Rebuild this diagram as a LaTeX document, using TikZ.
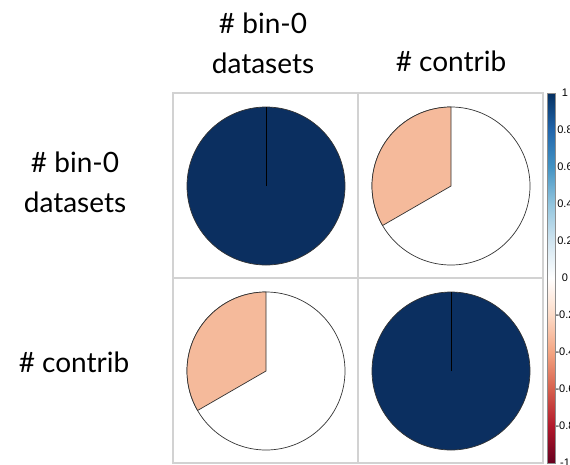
\documentclass[tikz,border=0pt]{standalone}
\usepackage{fontspec}
\setmainfont{Lato}
\newfontfamily\barfont{Liberation Sans}
\definecolor{corblue}{HTML}{0B2F60}
\definecolor{corsalmon}{HTML}{F5BA9B}
\definecolor{gridgray}{HTML}{D2D2D2}
\definecolor{rb0}{HTML}{67001F}
\definecolor{rb1}{HTML}{B2182B}
\definecolor{rb2}{HTML}{D6604D}
\definecolor{rb3}{HTML}{F4A582}
\definecolor{rb4}{HTML}{FDDBC7}
\definecolor{rb5}{HTML}{FFFFFF}
\definecolor{rb6}{HTML}{D1E5F0}
\definecolor{rb7}{HTML}{92C5DE}
\definecolor{rb8}{HTML}{4393C3}
\definecolor{rb9}{HTML}{2166AC}
\definecolor{rb10}{HTML}{053061}
\pgfdeclareverticalshading{rdbu}{100bp}{color(0bp)=(rb0); color(25bp)=(rb0);
  color(30bp)=(rb1); color(35bp)=(rb2); color(40bp)=(rb3); color(45bp)=(rb4);
  color(50bp)=(rb5); color(55bp)=(rb6); color(60bp)=(rb7); color(65bp)=(rb8);
  color(70bp)=(rb9); color(75bp)=(rb10); color(100bp)=(rb10)}
\tikzset{
  varlabel/.style={font=\fontsize{28}{40}\selectfont, align=center, inner sep=0pt, anchor=base},
  gridline/.style={draw=gridgray, line width=1.3pt},
  pieline/.style={draw=black!80, line width=0.7pt},
  barlabel/.style={font=\barfont\fontsize{11}{12}\selectfont, inner sep=0pt}
}
\begin{document}
\begin{tikzpicture}[x=1pt,y=-1pt]
	\useasboundingbox (0,0) rectangle (570,464);
	\clip (0,0) rectangle (570,464);
	% radius of the pies
	\newdimen\R
	\R=79pt
	% labels
	\node[varlabel] (colA) at (263,73) {\# bin-0\\datasets};
	\node[varlabel] (colB) at (451,71) {\# contrib};
	\node[varlabel] (rowA) at (75,212) {\# bin-0\\datasets};
	\node[varlabel] (rowB) at (74,372) {\# contrib};
	% grid
	\draw[gridline] (173,93) rectangle (543,463);
	\draw[gridline] (358,93) -- (358,463);
	\draw[gridline] (173,278) -- (543,278);
	\coordinate (pAA) at (266,186);
	\coordinate (pAB) at (451,186);
	\coordinate (pBA) at (266,371);
	\coordinate (pBB) at (451,371);
	% full pies
	\foreach \p in {pAA,pBB} {
		\fill[corblue] (\p) circle (\R);
		\draw[pieline] (\p) circle (\R);
		\draw[black, line width=0.8pt] (\p) -- ++(0,\R);
	}
	% pies for -0.33
	\foreach \p in {pAB,pBA} {
		\draw[pieline, fill=white] (\p) circle (\R);
		\draw[pieline, fill=corsalmon] (\p) -- ++(90:\R)
			arc[start angle=90, end angle=210, radius=\R] -- cycle;
	}
	% colour bar
	\shade[shading=rdbu] (547,93) rectangle (555,463);
	\draw[black!45, line width=0.4pt] (547,93) rectangle (555,463);
	\foreach \v [count=\i from 0] in {1,0.8,0.6,0.4,0.2,0,-0.2,-0.4,-0.6,-0.8,-1} {
		\node[barlabel] (tick\i) at (565,93+37*\i) {\v};
	}
\end{tikzpicture}
\end{document}
